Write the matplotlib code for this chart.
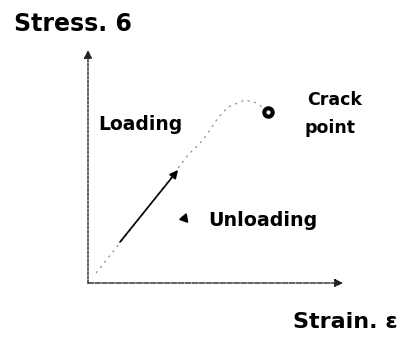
import matplotlib.pyplot as plt

# stress-strain curve (units: strain / stress, arbitrary)
strain = [0.8, 3.2, 6.2, 10.0, 11.5, 13.0, 14.0, 15.7, 16.9, 18.0]
stress = [1.0, 4.0, 7.8, 12.8, 14.3, 16.5, 17.6, 18.3, 18.0, 17.1]
crack = (18.0, 17.1)
load_arrow = [(3.2, 4.1), (9.0, 11.3)]
unload_mark = (9.6, 6.5)

plt.rcParams['font.family'] = ['DejaVu Sans']
fig = plt.figure(figsize=(4.03, 3.45), dpi=100)
ax = fig.add_axes([0, 0, 1, 1])
ax.set_xlim(-8.8, 31.5)
ax.set_ylim(-6.2, 28.3)
ax.axis('off')

# axes arrows
ax.annotate('', xy=(0, 23.3), xytext=(0, 0),
            arrowprops=dict(arrowstyle='-|>', color='#222222', lw=1.0, ls=(0, (2, 1)),
                            mutation_scale=12, shrinkA=0, shrinkB=0))
ax.annotate('', xy=(25.5, 0), xytext=(0, 0),
            arrowprops=dict(arrowstyle='-|>', color='#222222', lw=1.0, ls=(0, (4, 1)),
                            mutation_scale=12, shrinkA=0, shrinkB=0))

# curve
ax.plot(strain, stress, color='#888888', lw=0.8, ls=(0, (2, 4)))
ax.plot(*crack, 'o', color='black', ms=8)
ax.plot(*crack, 'o', color='white', ms=2)

# loading arrow
ax.annotate('', xy=load_arrow[1], xytext=load_arrow[0],
            arrowprops=dict(arrowstyle='-|>', color='black', lw=1.2,
                            mutation_scale=12, shrinkA=0, shrinkB=0))
ax.plot(*unload_mark, marker=(3, 0, 100), color='black', ms=7)

ax.text(-7.4, 25.9, 'Stress. 6', fontsize=17, fontweight='bold', va='center')
ax.text(20.5, -3.9, 'Strain. ε', fontsize=16, fontweight='bold', va='center')
ax.text(1.0, 15.9, 'Loading', fontsize=13.5, fontweight='bold', va='center')
ax.text(21.9, 18.3, 'Crack', fontsize=12.5, fontweight='bold', va='center')
ax.text(21.7, 15.5, 'point', fontsize=12.5, fontweight='bold', va='center')
ax.text(12.0, 6.3, 'Unloading', fontsize=13.7, fontweight='bold', va='center')

fig.savefig('out.png', dpi=100)
